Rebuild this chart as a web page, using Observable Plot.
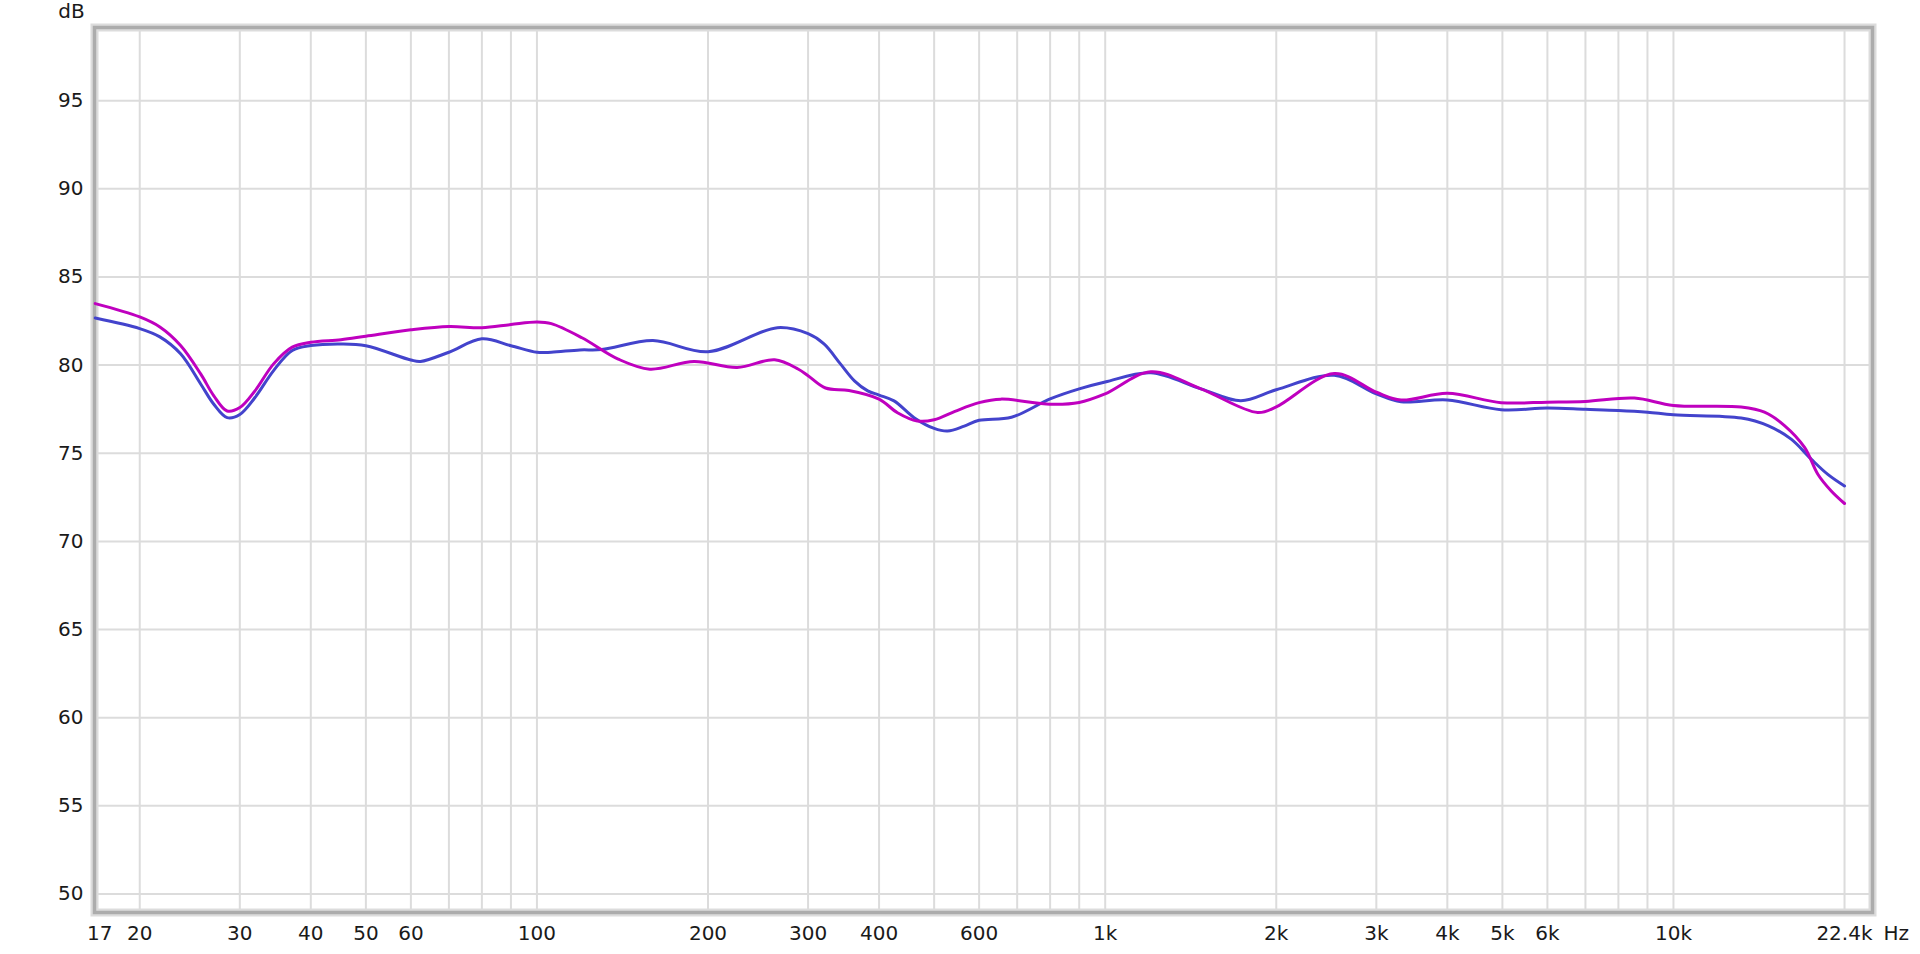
<!DOCTYPE html>
<html>
<head>
<meta charset="utf-8">
<script src="https://cdn.jsdelivr.net/npm/d3@7"></script>
<script src="https://cdn.jsdelivr.net/npm/@observablehq/plot@0.6"></script>
<style>
  html, body { margin: 0; padding: 0; background: #ffffff; }
  #chart svg { display: block; }
</style>
</head>
<body>
<div id="chart"></div>
<script>
// Series 1 (blue) — frequency (Hz) and level (dB)
const blueFreq = [16.7, 20, 21.7, 23.6, 25.6, 27, 28.5, 30, 31.9, 34.4, 37.1, 40, 45.2, 50, 60, 62.4, 70, 80, 90, 100, 106, 119, 130, 160, 200, 265, 300, 320, 342, 362, 382, 400, 425, 461, 500, 528, 565, 600, 684, 800, 900, 1000, 1203, 1474, 1733, 2000, 2530, 3000, 3316, 4000, 4973, 6000, 7000, 8000, 9000, 10000, 13157, 14660, 16110, 17470, 18690, 20000];
const blueDb = [82.67, 82.07, 81.6, 80.64, 78.93, 77.78, 77.02, 77.2, 78.16, 79.69, 80.83, 81.11, 81.2, 81.1, 80.29, 80.21, 80.73, 81.49, 81.1, 80.73, 80.73, 80.86, 80.88, 81.39, 80.76, 82.12, 81.78, 81.2, 80.07, 79.11, 78.54, 78.3, 77.97, 77.02, 76.41, 76.26, 76.54, 76.87, 77.04, 78.08, 78.65, 79.04, 79.56, 78.65, 77.98, 78.6, 79.42, 78.37, 77.92, 78.02, 77.47, 77.56, 77.49, 77.43, 77.33, 77.18, 77.0, 76.57, 75.8, 74.67, 73.8, 73.14];

// Series 2 (magenta)
const magentaFreq = [16.7, 20, 21.7, 23.6, 25.6, 27, 28.5, 30, 31.9, 34.4, 37.1, 40, 45.2, 50, 60, 70, 80, 90, 100, 106, 120, 139, 158, 189, 225, 262, 288, 300, 322, 354, 400, 431, 467, 500, 544, 600, 655, 800, 900, 1000, 1203, 1474, 1855, 2000, 2530, 3000, 3316, 4000, 4973, 6000, 7000, 8537, 10000, 13157, 14460, 15680, 17010, 17950, 18950, 20000];
const magentaDb = [83.49, 82.73, 82.16, 81.11, 79.5, 78.26, 77.4, 77.59, 78.54, 80.07, 81.02, 81.3, 81.44, 81.64, 82.0, 82.19, 82.12, 82.3, 82.44, 82.35, 81.55, 80.34, 79.77, 80.21, 79.87, 80.3, 79.78, 79.4, 78.7, 78.56, 78.07, 77.3, 76.83, 76.9, 77.38, 77.87, 78.07, 77.78, 77.88, 78.37, 79.62, 78.65, 77.31, 77.63, 79.52, 78.46, 78.02, 78.4, 77.87, 77.9, 77.94, 78.13, 77.71, 77.62, 77.33, 76.57, 75.33, 73.81, 72.86, 72.15];

// Axis ticks
const xTickValues = [17, 20, 30, 40, 50, 60, 80, 100, 200, 300, 400, 600, 800, 1000, 2000, 3000, 4000, 5000, 6000, 8000, 10000];
const xTickLabels = ["17", "20", "30", "40", "50", "60", "80", "100", "200", "300", "400", "600", "800", "1k", "2k", "3k", "4k", "5k", "6k", "8k", "10k"];
const xEndLabel = "22.4k";
const xEndValue = 22400;
const xUnit = "Hz";
const xGridValues = [20, 30, 40, 50, 60, 70, 80, 90, 100, 200, 300, 400, 500, 600, 700, 800, 900, 1000, 2000, 3000, 4000, 5000, 6000, 7000, 8000, 9000, 10000, 20000];
const yTickValues = [50, 55, 60, 65, 70, 75, 80, 85, 90, 95];
const yUnit = "dB";

const blueData = blueFreq.map((f, i) => ({f, db: blueDb[i]}));
const magentaData = magentaFreq.map((f, i) => ({f, db: magentaDb[i]}));
const labelOf = new Map(xTickValues.map((v, i) => [v, xTickLabels[i]]));

const font = "'DejaVu Sans', 'Lucida Grande', sans-serif";

const chart = Plot.plot({
  width: 1920,
  height: 954,
  marginLeft: 94,
  marginRight: 48,
  marginTop: 27,
  marginBottom: 42,
  style: {fontFamily: font, fontSize: "20px", background: "#ffffff", color: "#1a1a1a"},
  x: {type: "log", domain: [16.65, xEndValue], axis: null},
  y: {domain: [48.95, 99.15], axis: null},
  marks: [
    Plot.ruleY(yTickValues, {stroke: "#dcdcdc", strokeWidth: 2}),
    Plot.ruleX(xGridValues, {stroke: "#dcdcdc", strokeWidth: 2}),
    Plot.frame({stroke: "#dcdcdc", strokeWidth: 8}),
    Plot.frame({stroke: "#acacac", strokeWidth: 3.5}),
    Plot.line(blueData, {x: "f", y: "db", stroke: "#4343cc", strokeWidth: 3, curve: "catmull-rom"}),
    Plot.line(magentaData, {x: "f", y: "db", stroke: "#bf00bf", strokeWidth: 3, curve: "catmull-rom"}),
    Plot.axisY(yTickValues, {tickSize: 0, tickPadding: 11, label: null, fontSize: 20, fill: "#1a1a1a"}),
    Plot.axisX(xTickValues, {tickSize: 0, tickPadding: 13, label: null, fontSize: 20, fill: "#1a1a1a", tickFormat: (d) => labelOf.get(d)}),
    Plot.text([xEndLabel], {x: () => xEndValue, frameAnchor: "bottom", textAnchor: "end", lineAnchor: "top", dy: 13, fontSize: 20, fill: "#1a1a1a"}),
    Plot.text([xUnit], {x: () => xEndValue, frameAnchor: "bottom", textAnchor: "start", lineAnchor: "top", dx: 11, dy: 13, fontSize: 20, fill: "#1a1a1a"}),
    Plot.text([yUnit], {frameAnchor: "top-left", textAnchor: "middle", lineAnchor: "middle", dx: -23, dy: -16, fontSize: 20, fill: "#1a1a1a"})
  ]
});

document.getElementById("chart").appendChild(chart);
</script>
</body>
</html>
